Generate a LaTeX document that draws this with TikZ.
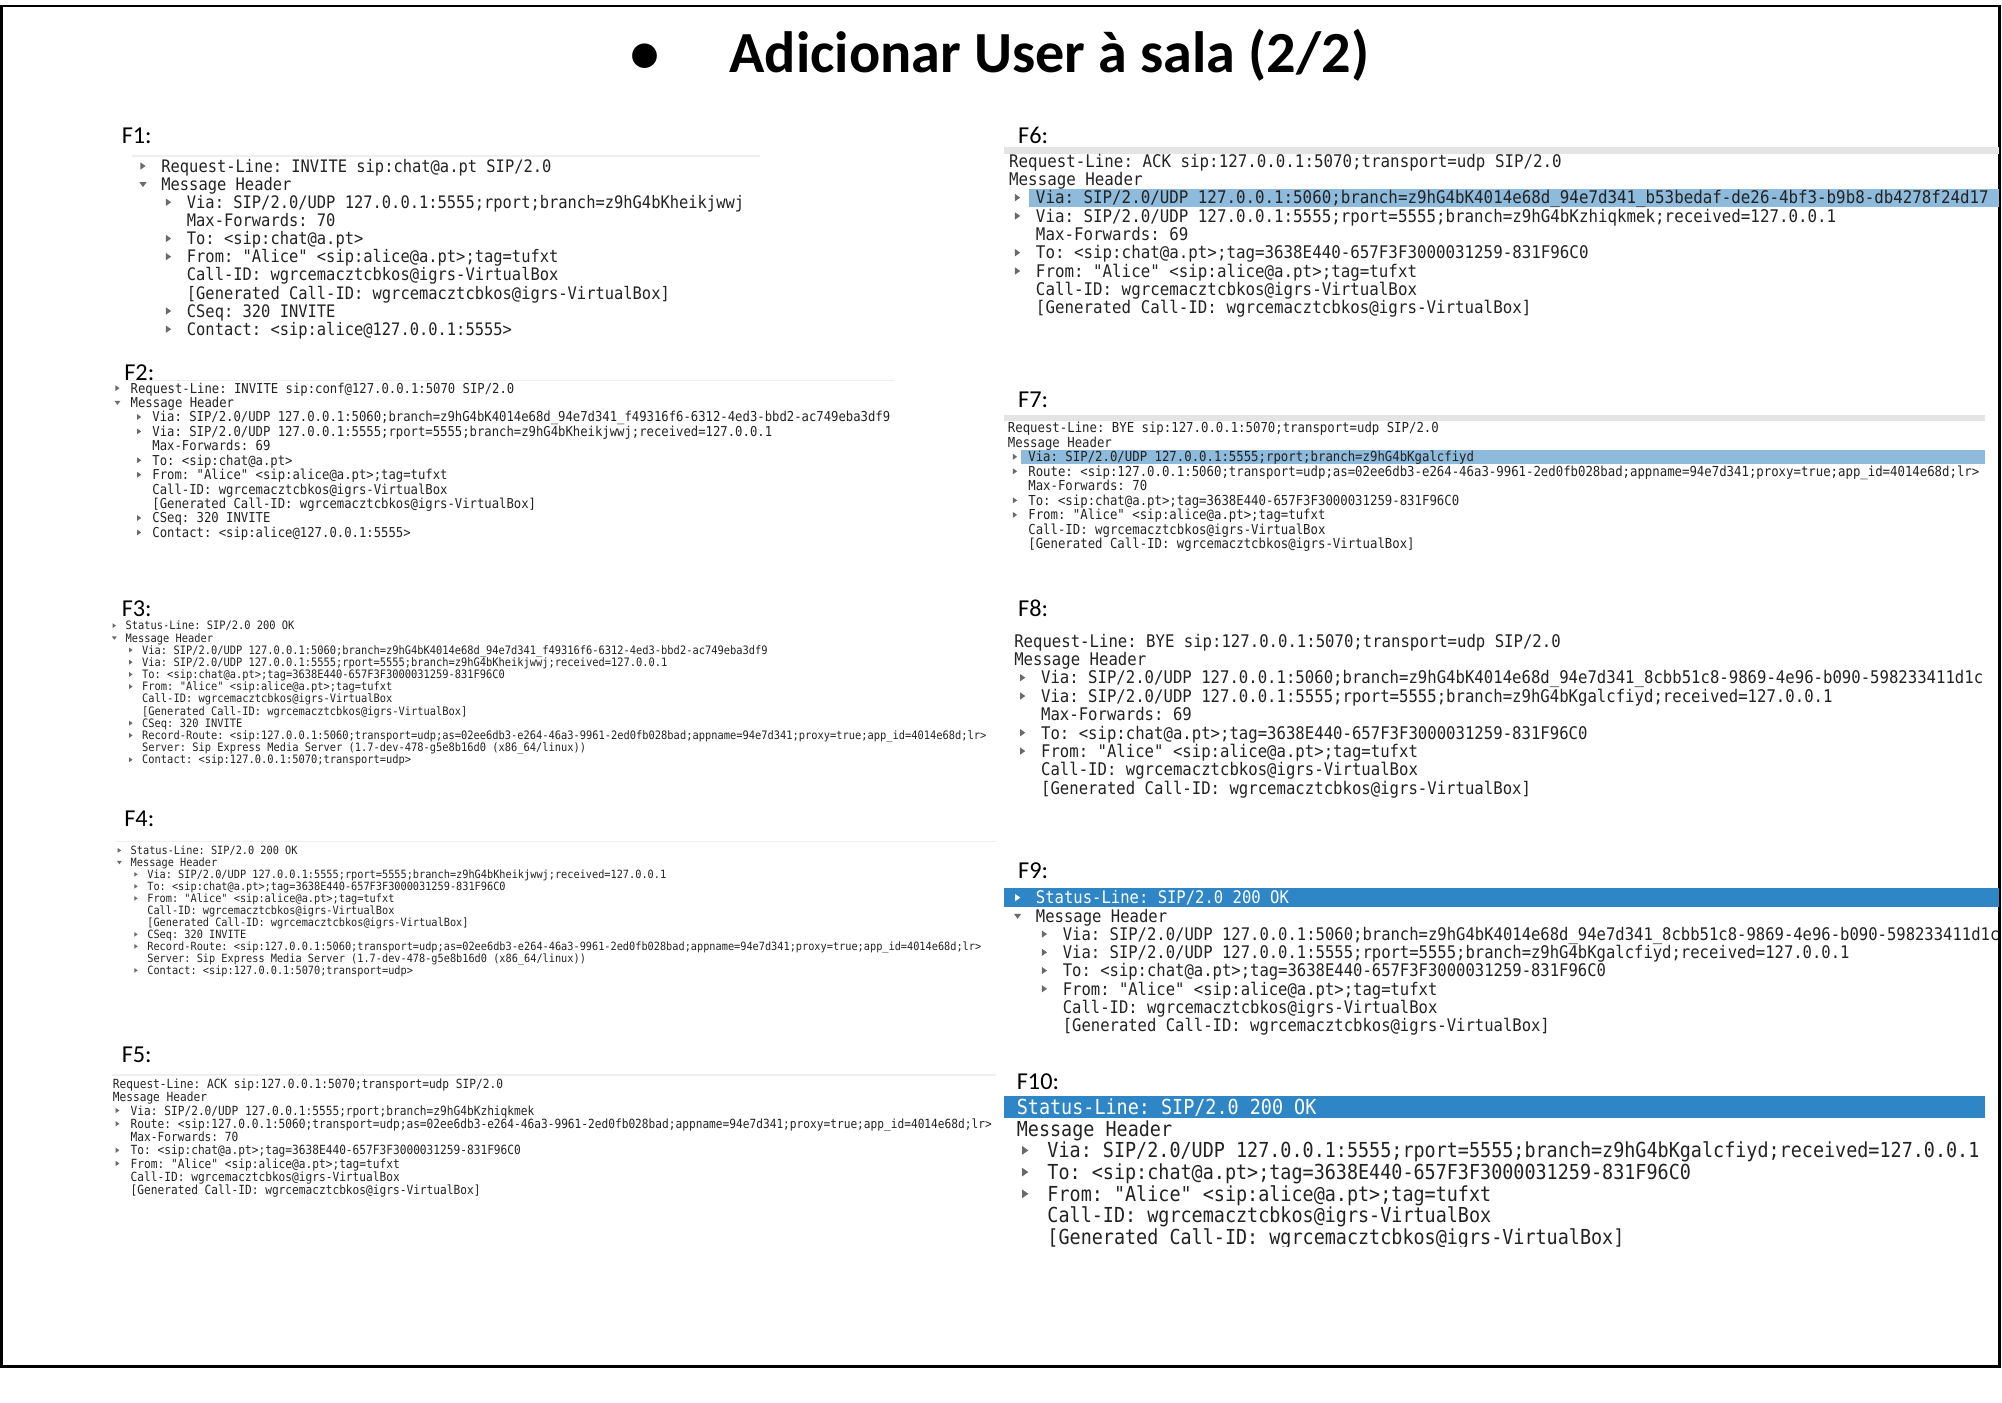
\documentclass[tikz,border=0pt]{standalone}
\usepackage{fontspec}
\usepackage{graphicx}
\setmainfont{Carlito}
\newfontfamily\mono{DejaVu Sans Mono}
\definecolor{txt}{HTML}{222222}
\definecolor{tri}{HTML}{6A6A6A}
\definecolor{hlA}{HTML}{8EBADB}
\definecolor{hlB}{HTML}{2E86C6}
\definecolor{pane}{HTML}{E4E4E4}
\definecolor{panel}{HTML}{EFEFEF}
% block parameters: em, xscale, line spacing, x0, y0, indent, triangle offset, prefix
\newcommand\setblk[8]{\def\bem{#1}\def\bxs{#2}\def\bls{#3}\def\bx{#4}\def\by{#5}\def\bind{#6}\def\btri{#7}\def\bpre{#8}}
\def\bcol{txt}\def\btc{tri}
% line: index, level, triangle (r/d/n), text
\newcommand\sipl[4]{%
  \pgfmathsetmacro\lx{\bx+#2*\bind}%
  \pgfmathsetmacro\ly{\by+#1*\bls}%
  \pgfmathsetmacro\lb{\ly+0.36*\bem}%
  \pgfmathsetmacro\fs{\bem*0.5}%
  \pgfmathsetmacro\tcx{\lx-\btri}%
  \node[anchor=base west, inner sep=0pt, text=\bcol] (\bpre-#1) at (\lx,\lb)
    {\frenchspacing\fontsize{\fs pt}{\fs pt}\mono\scalebox{\bxs}[1]{#4}};%
  \if r#3 \fill[\btc] ({\tcx-0.15*\bem},{\ly-0.21*\bem}) -- ({\tcx+0.15*\bem},\ly) -- ({\tcx-0.15*\bem},{\ly+0.21*\bem}) -- cycle;\fi
  \if d#3 \fill[\btc] ({\tcx-0.21*\bem},{\ly-0.12*\bem}) -- ({\tcx+0.21*\bem},{\ly-0.12*\bem}) -- (\tcx,{\ly+0.17*\bem}) -- cycle;\fi
}
\tikzset{
  flabel/.style={anchor=base west, inner sep=0pt, font=\fontsize{9.5pt}{11pt}\selectfont, text=black},
  titlefont/.style={inner sep=0pt, font=\fontsize{22.8pt}{27pt}\selectfont\bfseries, text=black}
}
\begin{document}
\begin{tikzpicture}[x=0.5pt,y=-0.5pt]
\useasboundingbox (0,0) rectangle (1568,1098.7);
\draw[line width=1.15pt, black] (1.2,4.7) rectangle (1566,1070);
% title
\node[titlefont, anchor=base] (bullet) at (505,57) {•};
\node[titlefont, anchor=base west] (title) at (571,57) {Adicionar User à sala (2/2)};
% labels
\node[flabel] (lF1) at (95,112) {F1:};
\node[flabel] (lF2) at (97,298) {F2:};
\node[flabel] (lF3) at (95,483) {F3:};
\node[flabel] (lF4) at (97,647) {F4:};
\node[flabel] (lF5) at (95,832) {F5:};
\node[flabel] (lF6) at (797,112) {F6:};
\node[flabel] (lF7) at (797,319) {F7:};
\node[flabel] (lF8) at (797,483) {F8:};
\node[flabel] (lF9) at (797,688) {F9:};
\node[flabel] (lF10) at (796,853) {F10:};
% pane edges
\draw[panel, line width=0.6pt] (103,122) -- (595,122);
\draw[panel, line width=0.6pt] (100,298) -- (700,298);
\draw[panel, line width=0.6pt] (90,659) -- (780,659);
\draw[panel, line width=0.6pt] (88,842) -- (780,842);
\fill[pane] (786,115) rectangle (1566,120.5);
\fill[pane] (786,325) rectangle (1555,330);
% ---------- F1
\setblk{13.5}{0.895}{14.2}{126}{130}{20}{14}{f1}
\sipl{0}{0}{r}{Request-Line: INVITE sip:chat@a.pt SIP/2.0}
\sipl{1}{0}{d}{Message Header}
\sipl{2}{1}{r}{Via: SIP/2.0/UDP 127.0.0.1:5555;rport;branch=z9hG4bKheikjwwj}
\sipl{3}{1}{n}{Max-Forwards: 70}
\sipl{4}{1}{r}{To: <sip:chat@a.pt>}
\sipl{5}{1}{r}{From: "Alice" <sip:alice@a.pt>;tag=tufxt}
\sipl{6}{1}{n}{Call-ID: wgrcemacztcbkos@igrs-VirtualBox}
\sipl{7}{1}{n}{[Generated Call-ID: wgrcemacztcbkos@igrs-VirtualBox]}
\sipl{8}{1}{r}{CSeq: 320 INVITE}
\sipl{9}{1}{r}{Contact: <sip:alice@127.0.0.1:5555>}
% ---------- F2
\setblk{10.7}{0.897}{11.3}{102}{304}{17}{10}{f2}
\sipl{0}{0}{r}{Request-Line: INVITE sip:conf@127.0.0.1:5070 SIP/2.0}
\sipl{1}{0}{d}{Message Header}
\sipl{2}{1}{r}{Via: SIP/2.0/UDP 127.0.0.1:5060;branch=z9hG4bK4014e68d\_94e7d341\_f49316f6-6312-4ed3-bbd2-ac749eba3df9}
\sipl{3}{1}{r}{Via: SIP/2.0/UDP 127.0.0.1:5555;rport=5555;branch=z9hG4bKheikjwwj;received=127.0.0.1}
\sipl{4}{1}{n}{Max-Forwards: 69}
\sipl{5}{1}{r}{To: <sip:chat@a.pt>}
\sipl{6}{1}{r}{From: "Alice" <sip:alice@a.pt>;tag=tufxt}
\sipl{7}{1}{n}{Call-ID: wgrcemacztcbkos@igrs-VirtualBox}
\sipl{8}{1}{n}{[Generated Call-ID: wgrcemacztcbkos@igrs-VirtualBox]}
\sipl{9}{1}{r}{CSeq: 320 INVITE}
\sipl{10}{1}{r}{Contact: <sip:alice@127.0.0.1:5555>}
% ---------- F3
\setblk{9.1}{0.894}{9.55}{98}{490}{13}{8.5}{f3}
\sipl{0}{0}{r}{Status-Line: SIP/2.0 200 OK}
\sipl{1}{0}{d}{Message Header}
\sipl{2}{1}{r}{Via: SIP/2.0/UDP 127.0.0.1:5060;branch=z9hG4bK4014e68d\_94e7d341\_f49316f6-6312-4ed3-bbd2-ac749eba3df9}
\sipl{3}{1}{r}{Via: SIP/2.0/UDP 127.0.0.1:5555;rport=5555;branch=z9hG4bKheikjwwj;received=127.0.0.1}
\sipl{4}{1}{r}{To: <sip:chat@a.pt>;tag=3638E440-657F3F3000031259-831F96C0}
\sipl{5}{1}{r}{From: "Alice" <sip:alice@a.pt>;tag=tufxt}
\sipl{6}{1}{n}{Call-ID: wgrcemacztcbkos@igrs-VirtualBox}
\sipl{7}{1}{n}{[Generated Call-ID: wgrcemacztcbkos@igrs-VirtualBox]}
\sipl{8}{1}{r}{CSeq: 320 INVITE}
\sipl{9}{1}{r}{Record-Route: <sip:127.0.0.1:5060;transport=udp;as=02ee6db3-e264-46a3-9961-2ed0fb028bad;appname=94e7d341;proxy=true;app\_id=4014e68d;lr>}
\sipl{10}{1}{n}{Server: Sip Express Media Server (1.7-dev-478-g5e8b16d0 (x86\_64/linux))}
\sipl{11}{1}{r}{Contact: <sip:127.0.0.1:5070;transport=udp>}
% ---------- F4
\setblk{8.9}{0.903}{9.4}{102}{666}{13}{8.5}{f4}
\sipl{0}{0}{r}{Status-Line: SIP/2.0 200 OK}
\sipl{1}{0}{d}{Message Header}
\sipl{2}{1}{r}{Via: SIP/2.0/UDP 127.0.0.1:5555;rport=5555;branch=z9hG4bKheikjwwj;received=127.0.0.1}
\sipl{3}{1}{r}{To: <sip:chat@a.pt>;tag=3638E440-657F3F3000031259-831F96C0}
\sipl{4}{1}{r}{From: "Alice" <sip:alice@a.pt>;tag=tufxt}
\sipl{5}{1}{n}{Call-ID: wgrcemacztcbkos@igrs-VirtualBox}
\sipl{6}{1}{n}{[Generated Call-ID: wgrcemacztcbkos@igrs-VirtualBox]}
\sipl{7}{1}{r}{CSeq: 320 INVITE}
\sipl{8}{1}{r}{Record-Route: <sip:127.0.0.1:5060;transport=udp;as=02ee6db3-e264-46a3-9961-2ed0fb028bad;appname=94e7d341;proxy=true;app\_id=4014e68d;lr>}
\sipl{9}{1}{n}{Server: Sip Express Media Server (1.7-dev-478-g5e8b16d0 (x86\_64/linux))}
\sipl{10}{1}{r}{Contact: <sip:127.0.0.1:5070;transport=udp>}
% ---------- F5
\setblk{9.9}{0.884}{10.375}{88}{849}{14}{10}{f5}
\sipl{0}{0}{n}{Request-Line: ACK sip:127.0.0.1:5070;transport=udp SIP/2.0}
\sipl{1}{0}{n}{Message Header}
\sipl{2}{1}{r}{Via: SIP/2.0/UDP 127.0.0.1:5555;rport;branch=z9hG4bKzhiqkmek}
\sipl{3}{1}{r}{Route: <sip:127.0.0.1:5060;transport=udp;as=02ee6db3-e264-46a3-9961-2ed0fb028bad;appname=94e7d341;proxy=true;app\_id=4014e68d;lr>}
\sipl{4}{1}{n}{Max-Forwards: 70}
\sipl{5}{1}{r}{To: <sip:chat@a.pt>;tag=3638E440-657F3F3000031259-831F96C0}
\sipl{6}{1}{r}{From: "Alice" <sip:alice@a.pt>;tag=tufxt}
\sipl{7}{1}{n}{Call-ID: wgrcemacztcbkos@igrs-VirtualBox}
\sipl{8}{1}{n}{[Generated Call-ID: wgrcemacztcbkos@igrs-VirtualBox]}
% ---------- F6
\setblk{13.65}{0.908}{14.375}{790}{126}{21}{14}{f6}
\fill[hlA] (806,148) rectangle (1566,162);
\sipl{0}{0}{n}{Request-Line: ACK sip:127.0.0.1:5070;transport=udp SIP/2.0}
\sipl{1}{0}{n}{Message Header}
\sipl{2}{1}{r}{Via: SIP/2.0/UDP 127.0.0.1:5060;branch=z9hG4bK4014e68d\_94e7d341\_b53bedaf-de26-4bf3-b9b8-db4278f24d17}
\sipl{3}{1}{r}{Via: SIP/2.0/UDP 127.0.0.1:5555;rport=5555;branch=z9hG4bKzhiqkmek;received=127.0.0.1}
\sipl{4}{1}{n}{Max-Forwards: 69}
\sipl{5}{1}{r}{To: <sip:chat@a.pt>;tag=3638E440-657F3F3000031259-831F96C0}
\sipl{6}{1}{r}{From: "Alice" <sip:alice@a.pt>;tag=tufxt}
\sipl{7}{1}{n}{Call-ID: wgrcemacztcbkos@igrs-VirtualBox}
\sipl{8}{1}{n}{[Generated Call-ID: wgrcemacztcbkos@igrs-VirtualBox]}
% ---------- F7
\setblk{10.8}{0.895}{11.375}{789}{335}{16}{10}{f7}
\fill[hlA] (800,352.5) rectangle (1555,363.5);
\sipl{0}{0}{n}{Request-Line: BYE sip:127.0.0.1:5070;transport=udp SIP/2.0}
\sipl{1}{0}{n}{Message Header}
\sipl{2}{1}{r}{Via: SIP/2.0/UDP 127.0.0.1:5555;rport;branch=z9hG4bKgalcfiyd}
\sipl{3}{1}{r}{Route: <sip:127.0.0.1:5060;transport=udp;as=02ee6db3-e264-46a3-9961-2ed0fb028bad;appname=94e7d341;proxy=true;app\_id=4014e68d;lr>}
\sipl{4}{1}{n}{Max-Forwards: 70}
\sipl{5}{1}{r}{To: <sip:chat@a.pt>;tag=3638E440-657F3F3000031259-831F96C0}
\sipl{6}{1}{r}{From: "Alice" <sip:alice@a.pt>;tag=tufxt}
\sipl{7}{1}{n}{Call-ID: wgrcemacztcbkos@igrs-VirtualBox}
\sipl{8}{1}{n}{[Generated Call-ID: wgrcemacztcbkos@igrs-VirtualBox]}
% ---------- F8
\setblk{13.65}{0.898}{14.375}{794}{502}{21}{14}{f8}
\sipl{0}{0}{n}{Request-Line: BYE sip:127.0.0.1:5070;transport=udp SIP/2.0}
\sipl{1}{0}{n}{Message Header}
\sipl{2}{1}{r}{Via: SIP/2.0/UDP 127.0.0.1:5060;branch=z9hG4bK4014e68d\_94e7d341\_8cbb51c8-9869-4e96-b090-598233411d1c}
\sipl{3}{1}{r}{Via: SIP/2.0/UDP 127.0.0.1:5555;rport=5555;branch=z9hG4bKgalcfiyd;received=127.0.0.1}
\sipl{4}{1}{n}{Max-Forwards: 69}
\sipl{5}{1}{r}{To: <sip:chat@a.pt>;tag=3638E440-657F3F3000031259-831F96C0}
\sipl{6}{1}{r}{From: "Alice" <sip:alice@a.pt>;tag=tufxt}
\sipl{7}{1}{n}{Call-ID: wgrcemacztcbkos@igrs-VirtualBox}
\sipl{8}{1}{n}{[Generated Call-ID: wgrcemacztcbkos@igrs-VirtualBox]}
% ---------- F9
\setblk{13.6}{0.896}{14.29}{811}{703}{21}{14}{f9}
\fill[hlB] (786,695.5) rectangle (1566,710.5);
\def\bcol{white}\def\btc{white}
\sipl{0}{0}{r}{Status-Line: SIP/2.0 200 OK}
\def\bcol{txt}\def\btc{tri}
\sipl{1}{0}{d}{Message Header}
\sipl{2}{1}{r}{Via: SIP/2.0/UDP 127.0.0.1:5060;branch=z9hG4bK4014e68d\_94e7d341\_8cbb51c8-9869-4e96-b090-598233411d1c}
\sipl{3}{1}{r}{Via: SIP/2.0/UDP 127.0.0.1:5555;rport=5555;branch=z9hG4bKgalcfiyd;received=127.0.0.1}
\sipl{4}{1}{r}{To: <sip:chat@a.pt>;tag=3638E440-657F3F3000031259-831F96C0}
\sipl{5}{1}{r}{From: "Alice" <sip:alice@a.pt>;tag=tufxt}
\sipl{6}{1}{n}{Call-ID: wgrcemacztcbkos@igrs-VirtualBox}
\sipl{7}{1}{n}{[Generated Call-ID: wgrcemacztcbkos@igrs-VirtualBox]}
% ---------- F10
\begin{scope}
\clip (780,855) rectangle (1568,976);
\setblk{16.2}{0.891}{17}{796}{867}{24}{17}{f10}
\fill[hlB] (786,858.5) rectangle (1555,875.5);
\def\bcol{white}
\sipl{0}{0}{n}{Status-Line: SIP/2.0 200 OK}
\def\bcol{txt}
\sipl{1}{0}{n}{Message Header}
\sipl{2}{1}{r}{Via: SIP/2.0/UDP 127.0.0.1:5555;rport=5555;branch=z9hG4bKgalcfiyd;received=127.0.0.1}
\sipl{3}{1}{r}{To: <sip:chat@a.pt>;tag=3638E440-657F3F3000031259-831F96C0}
\sipl{4}{1}{r}{From: "Alice" <sip:alice@a.pt>;tag=tufxt}
\sipl{5}{1}{n}{Call-ID: wgrcemacztcbkos@igrs-VirtualBox}
\sipl{6}{1}{n}{[Generated Call-ID: wgrcemacztcbkos@igrs-VirtualBox]}
\end{scope}
\end{tikzpicture}
\end{document}
